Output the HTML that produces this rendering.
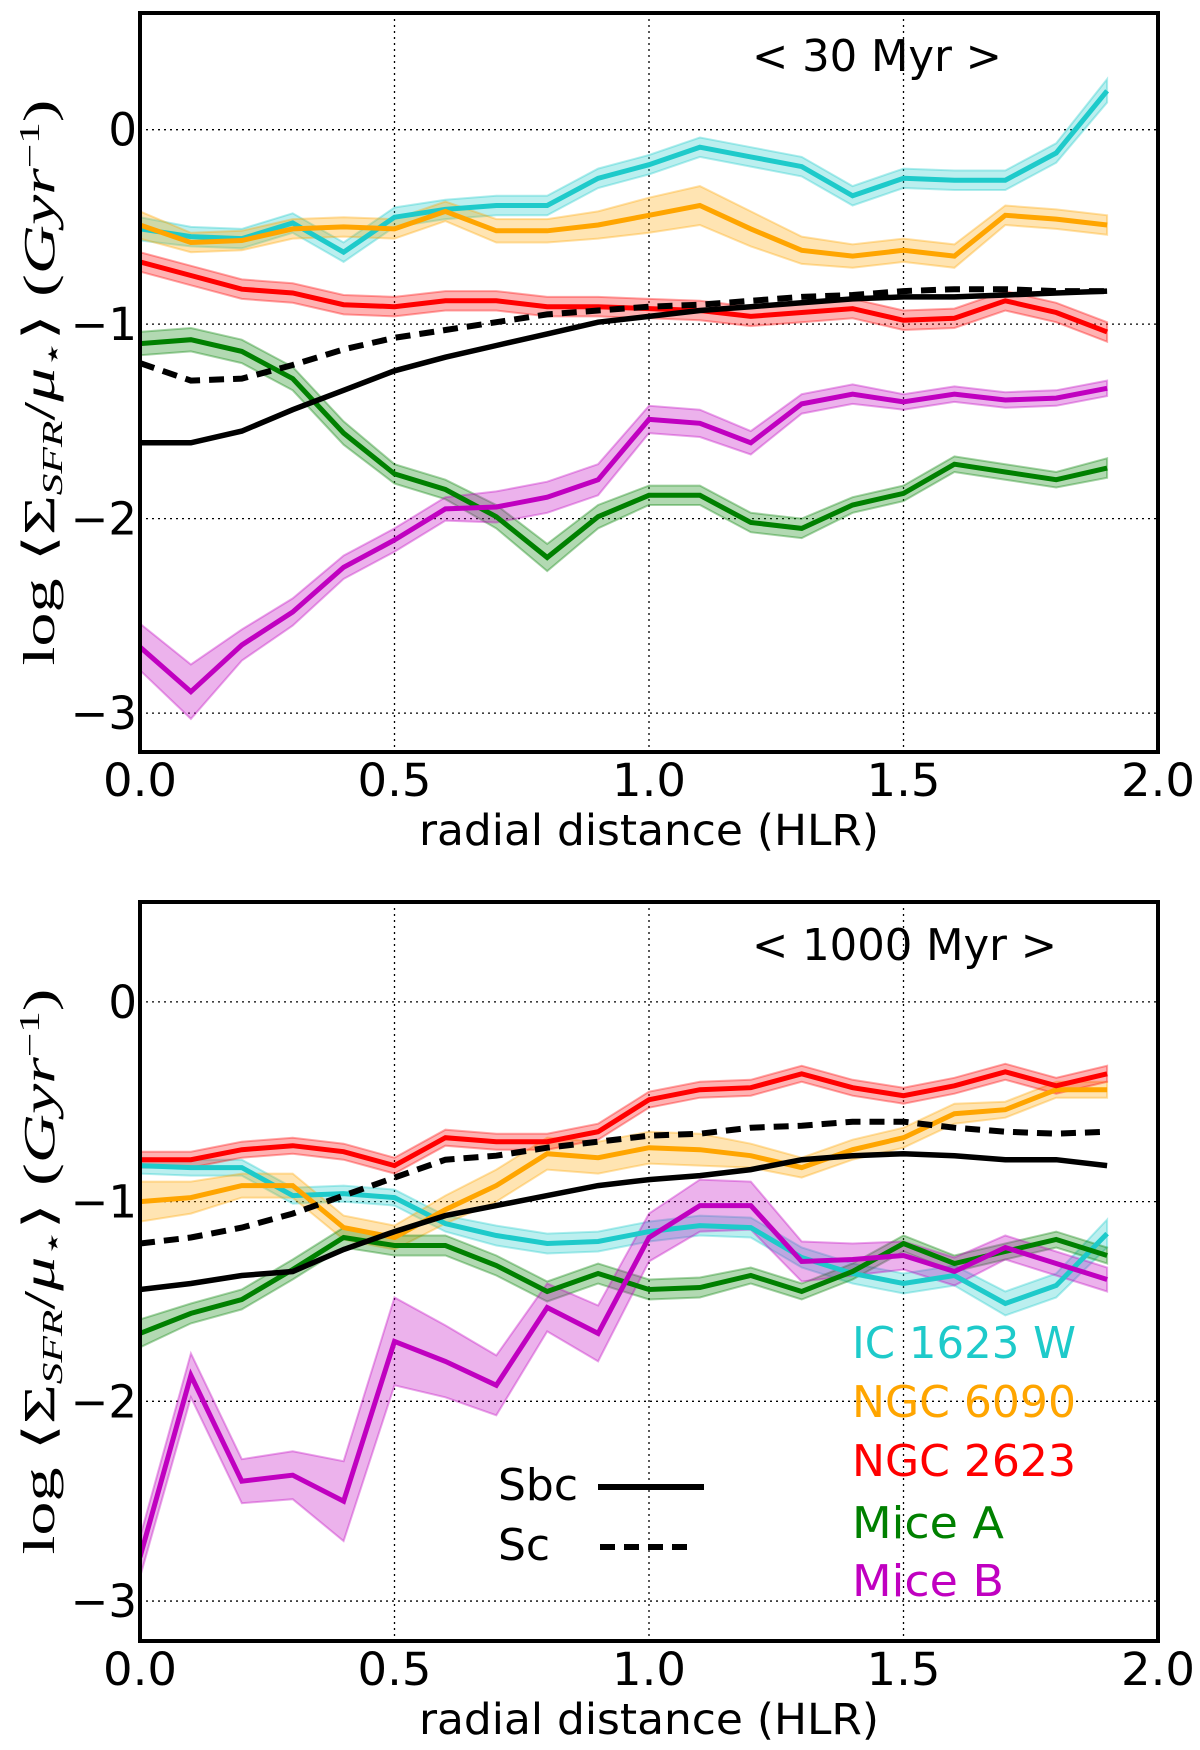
<!DOCTYPE html>
<html><head><meta charset="utf-8"><style>
html,body{margin:0;padding:0;background:#fff;}
svg{display:block;}
text{font-family:"DejaVu Sans","Liberation Sans",sans-serif;}
</style></head><body>
<svg id="fig" width="1200" height="1750" viewBox="0 0 1200 1750" xmlns="http://www.w3.org/2000/svg">
<defs>
<clipPath id="clipTop"><rect x="140" y="13" width="1018" height="739"/></clipPath>
<clipPath id="clipBot"><rect x="140" y="902" width="1018" height="739"/></clipPath>
</defs>
</svg>
<script>
const radii = [0,0.1,0.2,0.3,0.4,0.5,0.6,0.7,0.8,0.9,1.0,1.1,1.2,1.3,1.4,1.5,1.6,1.7,1.8,1.9];
const xTicks = [0.0,0.5,1.0,1.5,2.0];
const xTickLabels = ["0.0","0.5","1.0","1.5","2.0"];
const yTicks = [0,-1,-2,-3];
const yTickLabels = ["0","\u22121","\u22122","\u22123"];
const seriesNames = ["IC 1623 W","NGC 6090","NGC 2623","Mice A","Mice B"];
const seriesColors = ["#1ecaca","#ffa500","#ff0000","#008000","#c000c0"];

// Panel 1: < 30 Myr >
const t30_ic1623 = [-0.51,-0.55,-0.56,-0.48,-0.63,-0.45,-0.41,-0.39,-0.39,-0.25,-0.18,-0.09,-0.14,-0.19,-0.34,-0.25,-0.26,-0.26,-0.12,0.20];
const t30_ngc6090 = [-0.49,-0.58,-0.57,-0.51,-0.50,-0.51,-0.42,-0.52,-0.52,-0.49,-0.44,-0.39,-0.51,-0.62,-0.65,-0.62,-0.65,-0.44,-0.46,-0.49];
const t30_ngc2623 = [-0.68,-0.75,-0.82,-0.84,-0.90,-0.91,-0.88,-0.88,-0.91,-0.91,-0.92,-0.93,-0.96,-0.94,-0.92,-0.98,-0.97,-0.88,-0.94,-1.04];
const t30_miceA = [-1.10,-1.08,-1.14,-1.28,-1.56,-1.77,-1.85,-1.99,-2.20,-1.99,-1.88,-1.88,-2.02,-2.05,-1.93,-1.87,-1.72,-1.76,-1.80,-1.74];
const t30_miceB = [-2.66,-2.89,-2.65,-2.48,-2.25,-2.11,-1.95,-1.94,-1.89,-1.80,-1.49,-1.51,-1.61,-1.41,-1.36,-1.40,-1.36,-1.39,-1.38,-1.33];
const t30_sbc = [-1.61,-1.61,-1.55,-1.44,-1.34,-1.24,-1.17,-1.11,-1.05,-0.99,-0.96,-0.93,-0.91,-0.89,-0.87,-0.86,-0.86,-0.85,-0.84,-0.83];
const t30_sc = [-1.20,-1.29,-1.28,-1.21,-1.13,-1.07,-1.03,-0.99,-0.95,-0.93,-0.91,-0.90,-0.88,-0.86,-0.85,-0.83,-0.82,-0.82,-0.83,-0.83];
const t30_err_ic1623 = [0.06,0.05,0.05,0.05,0.05,0.05,0.05,0.05,0.05,0.05,0.05,0.05,0.05,0.05,0.05,0.05,0.05,0.05,0.05,0.06];
const t30_err_ngc6090 = [0.07,0.05,0.05,0.05,0.05,0.05,0.05,0.06,0.06,0.07,0.09,0.10,0.09,0.07,0.06,0.06,0.06,0.05,0.05,0.05];
const t30_err_ngc2623 = [0.05,0.05,0.05,0.05,0.05,0.05,0.05,0.05,0.05,0.05,0.05,0.05,0.05,0.05,0.05,0.05,0.05,0.05,0.05,0.05];
const t30_err_miceA = [0.06,0.06,0.06,0.06,0.06,0.05,0.05,0.06,0.07,0.06,0.05,0.05,0.05,0.05,0.04,0.04,0.04,0.04,0.04,0.05];
const t30_err_miceB = [0.12,0.14,0.08,0.07,0.06,0.06,0.06,0.08,0.08,0.08,0.07,0.07,0.06,0.05,0.05,0.04,0.04,0.04,0.04,0.04];

// Panel 2: < 1000 Myr >
const t1000_ic1623 = [-0.82,-0.83,-0.83,-0.97,-0.96,-0.98,-1.11,-1.17,-1.21,-1.20,-1.15,-1.12,-1.13,-1.28,-1.36,-1.41,-1.37,-1.51,-1.42,-1.16];
const t1000_ngc6090 = [-1.00,-0.98,-0.92,-0.92,-1.13,-1.18,-1.04,-0.92,-0.76,-0.78,-0.73,-0.74,-0.77,-0.83,-0.74,-0.68,-0.56,-0.54,-0.44,-0.44];
const t1000_ngc2623 = [-0.79,-0.79,-0.74,-0.72,-0.75,-0.82,-0.68,-0.70,-0.70,-0.65,-0.49,-0.44,-0.43,-0.36,-0.43,-0.47,-0.42,-0.35,-0.42,-0.36];
const t1000_miceA = [-1.66,-1.56,-1.49,-1.34,-1.18,-1.22,-1.22,-1.32,-1.45,-1.36,-1.44,-1.43,-1.37,-1.45,-1.35,-1.21,-1.31,-1.25,-1.19,-1.27];
const t1000_miceB = [-2.78,-1.87,-2.40,-2.37,-2.50,-1.70,-1.80,-1.92,-1.53,-1.66,-1.18,-1.02,-1.02,-1.30,-1.29,-1.27,-1.35,-1.23,-1.31,-1.39];
const t1000_sbc = [-1.44,-1.41,-1.37,-1.35,-1.24,-1.15,-1.07,-1.02,-0.97,-0.92,-0.89,-0.87,-0.84,-0.79,-0.77,-0.76,-0.77,-0.79,-0.79,-0.82];
const t1000_sc = [-1.21,-1.18,-1.13,-1.06,-0.97,-0.88,-0.79,-0.77,-0.73,-0.70,-0.67,-0.66,-0.63,-0.62,-0.60,-0.60,-0.63,-0.65,-0.66,-0.65];
const t1000_err_ic1623 = [0.04,0.04,0.04,0.04,0.04,0.04,0.04,0.05,0.05,0.05,0.05,0.05,0.05,0.05,0.05,0.05,0.05,0.06,0.06,0.07];
const t1000_err_ngc6090 = [0.10,0.08,0.06,0.06,0.06,0.06,0.07,0.08,0.08,0.08,0.08,0.08,0.06,0.05,0.05,0.05,0.05,0.04,0.04,0.04];
const t1000_err_ngc2623 = [0.04,0.04,0.04,0.04,0.04,0.04,0.04,0.04,0.04,0.04,0.04,0.04,0.04,0.04,0.04,0.04,0.04,0.04,0.04,0.04];
const t1000_err_miceA = [0.07,0.05,0.05,0.05,0.05,0.05,0.05,0.05,0.05,0.05,0.05,0.05,0.04,0.04,0.04,0.04,0.04,0.04,0.04,0.04];
const t1000_err_miceB = [0.10,0.11,0.11,0.12,0.20,0.22,0.18,0.15,0.12,0.14,0.12,0.13,0.12,0.10,0.08,0.07,0.07,0.06,0.06,0.06];

const NS = "http://www.w3.org/2000/svg";
const svg = document.getElementById('fig');
function mk(tag, attrs, parent){ const e=document.createElementNS(NS,tag); for(const k in attrs) e.setAttribute(k,attrs[k]); (parent||svg).appendChild(e); return e; }

function drawPanel(p){
  const g = mk('g',{});
  
  
  const L=140,R=1158,T=p.top,B=p.top+739;
  const xs = v => L + (v-0)/(2.0-0)*(R-L);
  const ys = v => T + (p.ymax - v)/(p.ymax - p.ymin)*(B-T);
  xTicks.forEach((t,i)=>{
    if(i>0 && i<xTicks.length-1){
      const l=mk('line',{x1:xs(t),x2:xs(t),y1:T,y2:B,stroke:'#000','stroke-width':1.3,'stroke-dasharray':'2,4'},g);
      
      
    }
  });
  yTicks.forEach(t=>{
    const l=mk('line',{x1:L,x2:R,y1:ys(t),y2:ys(t),stroke:'#000','stroke-width':1.3,'stroke-dasharray':'2,4'},g);
    
    
  });
  const cg = mk('g',{'clip-path':'url(#'+p.clip+')'},g);
  p.series.forEach((s,i)=>{
    let d='';
    radii.forEach((r,j)=>{ d+=(j?'L':'M')+xs(r).toFixed(1)+','+ys(s.v[j]+s.e[j]).toFixed(1); });
    for(let j=radii.length-1;j>=0;j--){ d+='L'+xs(radii[j]).toFixed(1)+','+ys(s.v[j]-s.e[j]).toFixed(1); }
    d+='Z';
    const b=mk('path',{d:d,fill:seriesColors[i],'fill-opacity':0.3,stroke:seriesColors[i],'stroke-opacity':0.35,'stroke-width':2},cg);
    
    
  });
  p.series.forEach((s,i)=>{
    const pts=radii.map((r,j)=>xs(r).toFixed(1)+','+ys(s.v[j]).toFixed(1)).join(' ');
    const l=mk('polyline',{points:pts,fill:'none',stroke:seriesColors[i],'stroke-width':5,'stroke-linejoin':'miter'},cg);
    
    
  });
  const sbcPts=radii.map((r,j)=>xs(r).toFixed(1)+','+ys(p.sbc[j]).toFixed(1)).join(' ');
  const sbc=mk('polyline',{points:sbcPts,fill:'none',stroke:'#000','stroke-width':5.5},cg);
  
  
  const scPts=radii.map((r,j)=>xs(r).toFixed(1)+','+ys(p.sc[j]).toFixed(1)).join(' ');
  const sc=mk('polyline',{points:scPts,fill:'none',stroke:'#000','stroke-width':6,'stroke-dasharray':'15,9'},cg);
  
  
  const fr=mk('rect',{x:L,y:T,width:R-L,height:B-T,fill:'none',stroke:'#000','stroke-width':4},g);
  
  
  xTicks.forEach((t,i)=>{
    const tx=mk('text',{x:xs(t),y:B+44,'font-size':45,'text-anchor':'middle',textLength:74,lengthAdjust:'spacingAndGlyphs'},g);
    tx.textContent=xTickLabels[i];
    
    
  });
  yTicks.forEach((t,i)=>{
    const tx=mk('text',{x:137,y:ys(t)+16,'font-size':45,'text-anchor':'end'},g);
    tx.textContent=yTickLabels[i];
    
    
  });
  const xl=mk('text',{x:649,y:B+93,'font-size':43,'text-anchor':'middle',textLength:460,lengthAdjust:'spacingAndGlyphs'},g);
  xl.textContent='radial distance (HLR)';
  
  
  const tl=mk('text',{x:752,y:T+58,'font-size':44,textLength:p.titleLen,lengthAdjust:'spacingAndGlyphs'},g);
  tl.textContent=p.title;
  
  
  const cy=(T+B)/2;
  const yl=mk('text',{x:0,y:0,'font-size':44,'text-anchor':'middle',transform:'translate(54,'+cy+') rotate(-90)',style:'font-family:"Liberation Serif","DejaVu Serif",serif;font-weight:normal',textLength:566,lengthAdjust:'spacingAndGlyphs'},g);
  yl.innerHTML='log \u27E8\u03A3<tspan font-style="italic" font-size="28" dy="8">SFR</tspan><tspan dy="-8">/</tspan><tspan font-style="italic">\u03BC</tspan><tspan font-size="28" dy="8">\u22C6</tspan><tspan dy="-8">\u27E9 (</tspan><tspan font-style="italic">Gyr</tspan><tspan font-size="28" dy="-15">\u22121</tspan><tspan dy="15">)</tspan>';
  
  
  return g;
}

drawPanel({name:'panel-30-myr',top:13,ymax:0.6,ymin:-3.2,clip:'clipTop',title:'< 30 Myr >',titleLen:250,
  series:[{v:t30_ic1623,e:t30_err_ic1623},{v:t30_ngc6090,e:t30_err_ngc6090},{v:t30_ngc2623,e:t30_err_ngc2623},{v:t30_miceA,e:t30_err_miceA},{v:t30_miceB,e:t30_err_miceB}],
  sbc:t30_sbc,sc:t30_sc});
drawPanel({name:'panel-1000-myr',top:902,ymax:0.5,ymin:-3.2,clip:'clipBot',title:'< 1000 Myr >',titleLen:305,
  series:[{v:t1000_ic1623,e:t1000_err_ic1623},{v:t1000_ngc6090,e:t1000_err_ngc6090},{v:t1000_ngc2623,e:t1000_err_ngc2623},{v:t1000_miceA,e:t1000_err_miceA},{v:t1000_miceB,e:t1000_err_miceB}],
  sbc:t1000_sbc,sc:t1000_sc});

const legendYs=[1358,1417,1476,1538,1596];
const legendLens=[224,224,224,152,152];
seriesNames.forEach((n,i)=>{
  const t=mk('text',{x:852,y:legendYs[i],'font-size':44,style:'fill:'+seriesColors[i],textLength:legendLens[i],lengthAdjust:'spacingAndGlyphs'});
  t.textContent=n;
  
  
});
const sbcT=mk('text',{x:498,y:1500,'font-size':44});
sbcT.textContent='Sbc';


const sbcL=mk('line',{x1:598,x2:704,y1:1487,y2:1487,stroke:'#000','stroke-width':6});


const scT=mk('text',{x:498,y:1560,'font-size':44});
scT.textContent='Sc';


const scL=mk('line',{x1:600,x2:694,y1:1547,y2:1547,stroke:'#000','stroke-width':6,'stroke-dasharray':'15,9'});


</script>
</body></html>
